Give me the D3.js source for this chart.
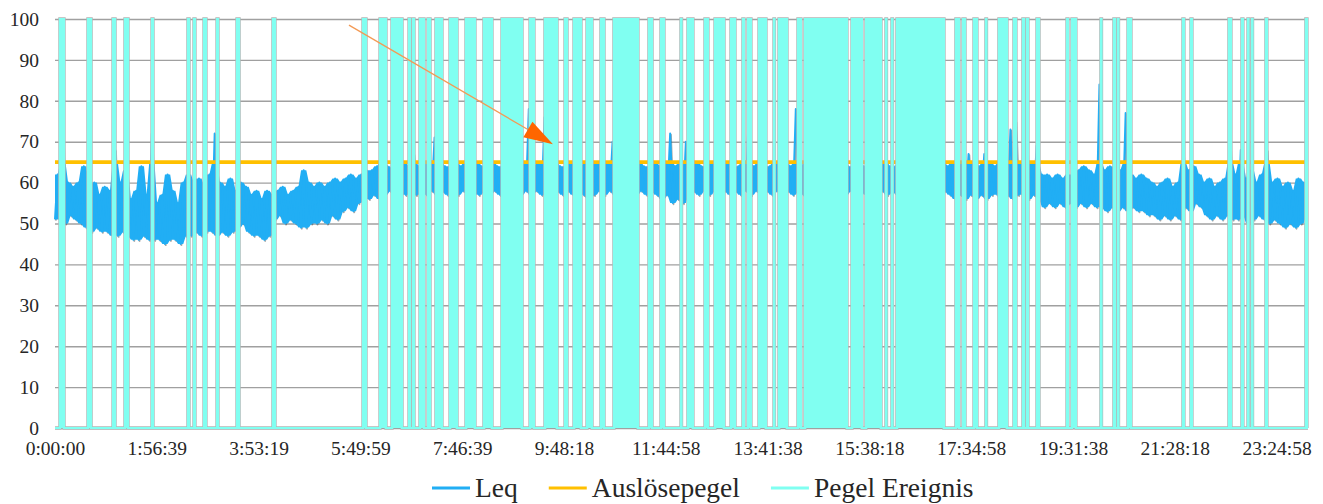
<!DOCTYPE html>
<html>
<head>
<meta charset="utf-8">
<script src="https://cdn.jsdelivr.net/npm/d3@7"></script>
<style>
  body { margin: 0; background: #fff; }
  svg { display: block; }
</style>
</head>
<body>
<svg id="chart" width="1323" height="504"></svg>
<script>
// ---- data ---------------------------------------------------------------
// x-axis category labels (one every 7000 s)
const tickLabels = ["0:00:00", "1:56:39", "3:53:19", "5:49:59", "7:46:39", "9:48:18",
  "11:44:58", "13:41:38", "15:38:18", "17:34:58", "19:31:38", "21:28:18", "23:24:58"];
const tickStepSeconds = 7000;
const dayEndSeconds = 86160;

// y-axis ticks (dB)
const yTicks = [0, 10, 20, 30, 40, 50, 60, 70, 80, 90, 100];

// Leq in dB, one reading every 180 s starting at 0:00:00
const leqStepSeconds = 180;
const leq = [
  51, 62, 51, 73, 50, 60, 52, 59, 51, 60,
  50, 64, 49, 58, 48, 60, 49, 57, 48, 59,
  48, 58, 47, 68, 47, 60, 48, 63, 47, 56,
  46, 58, 46, 64, 47, 57, 46, 72, 46, 55,
  46, 57, 45, 62, 46, 58, 46, 55, 45, 60,
  47, 62, 47, 60, 48, 61, 47, 59, 48, 62,
  48, 72, 47, 60, 48, 59, 47, 61, 48, 58,
  49, 60, 50, 59, 48, 57, 47, 58, 47, 56,
  46, 58, 47, 57, 51, 58, 52, 59, 50, 57,
  51, 58, 50, 59, 49, 63, 49, 60, 50, 59,
  50, 60, 51, 59, 50, 60, 52, 61, 51, 60,
  53, 61, 54, 62, 53, 61, 55, 62, 56, 63,
  56, 63, 57, 64, 56, 71, 57, 64, 58, 63,
  57, 64, 58, 65, 57, 64, 58, 67, 57, 64,
  58, 65, 57, 64, 58, 71, 57, 65, 58, 64,
  57, 64, 58, 71, 57, 64, 58, 65, 57, 64,
  58, 65, 57, 64, 58, 64, 57, 65, 58, 64,
  57, 64, 58, 65, 57, 64, 58, 64, 57, 65,
  58, 78, 57, 64, 58, 65, 57, 76, 58, 64,
  57, 65, 58, 64, 57, 64, 58, 65, 57, 73,
  58, 64, 57, 65, 56, 64, 57, 65, 58, 64,
  57, 65, 58, 70, 57, 64, 58, 65, 57, 64,
  58, 64, 57, 65, 58, 64, 57, 64, 58, 65,
  57, 64, 56, 65, 57, 72, 55, 64, 56, 65,
  55, 70, 57, 64, 58, 65, 57, 64, 58, 64,
  57, 65, 58, 64, 57, 64, 58, 65, 57, 64,
  58, 64, 57, 65, 58, 77, 57, 64, 58, 65,
  57, 64, 58, 64, 57, 65, 58, 64, 57, 65,
  58, 64, 57, 78, 58, 64, 57, 65, 58, 64,
  57, 65, 58, 64, 57, 64, 58, 65, 57, 64,
  58, 65, 57, 64, 58, 64, 57, 65, 58, 64,
  57, 64, 58, 65, 57, 64, 58, 65, 57, 64,
  58, 64, 57, 65, 58, 64, 57, 64, 58, 65,
  57, 64, 58, 65, 57, 64, 58, 64, 57, 65,
  58, 64, 57, 65, 56, 64, 57, 65, 56, 67,
  57, 65, 56, 64, 57, 67, 56, 65, 57, 64,
  57, 70, 56, 65, 57, 73, 56, 75, 57, 65,
  57, 76, 56, 65, 57, 69, 56, 62, 54, 62,
  55, 61, 54, 62, 55, 61, 54, 62, 55, 62,
  54, 63, 55, 64, 54, 63, 55, 62, 54, 84,
  54, 63, 53, 64, 54, 62, 53, 63, 54, 77,
  53, 62, 54, 61, 53, 62, 53, 61, 52, 60,
  52, 59, 51, 60, 52, 61, 51, 59, 52, 60,
  51, 67, 54, 63, 53, 64, 55, 62, 54, 60,
  52, 61, 51, 59, 52, 60, 51, 61, 52, 68,
  51, 62, 51, 68, 52, 61, 50, 63, 51, 60,
  52, 62, 51, 68, 50, 60, 51, 61, 50, 59,
  49, 60, 50, 58, 49, 61, 50, 60, 52
];

// trigger level (dB)
const ausloesepegel = 65;

// event periods [start, end] in minutes after midnight; Pegel Ereignis = 100 inside
const ereignisse = [
  [5.7, 10.3], [37.8, 41.3], [66.5, 68.8], [80.2, 83.7], [111.2, 112.3],
  [152.4, 153.6], [159.3, 160.4], [170.8, 173.0], [185.7, 186.8], [208.6, 210.9],
  [249.8, 252.1], [353.0, 356.4], [372.5, 379.3], [386.2, 397.7], [405.7, 406.8],
  [410.3, 411.4], [418.3, 422.9], [427.5, 429.8], [436.6, 443.5], [452.7, 460.7],
  [471.0, 481.3], [491.6, 500.8], [512.3, 535.2], [544.4, 548.9], [561.5, 575.3],
  [584.5, 586.8], [594.8, 602.8], [609.7, 615.4], [625.7, 629.2], [640.6, 668.1],
  [680.7, 684.2], [694.5, 697.9], [717.4, 718.0], [725.4, 731.1], [744.9, 748.3],
  [756.4, 766.7], [774.7, 779.3], [788.4, 789.6], [794.2, 797.6], [806.8, 814.8],
  [824.0, 824.5], [829.7, 838.9], [851.5, 854.9], [859.5, 907.6], [913.4, 924.8],
  [929.4, 946.6], [952.3, 952.9], [959.2, 959.8], [964.9, 1018.8], [1032.5, 1036.0],
  [1040.6, 1042.9], [1053.2, 1056.6], [1066.9, 1067.5], [1081.8, 1091.0], [1099.0, 1101.3],
  [1109.3, 1110.5], [1113.9, 1115.1], [1125.4, 1127.7], [1159.8, 1160.9], [1165.5, 1170.0],
  [1198.7, 1199.3], [1213.6, 1214.8], [1218.2, 1218.8], [1229.7, 1233.1], [1292.7, 1293.8],
  [1301.9, 1303.0], [1345.4, 1347.7], [1360.3, 1361.4], [1367.2, 1367.8], [1371.8, 1372.4],
  [1387.8, 1388.9], [1433.6, 1434.8]
];

// annotation arrow: from [seconds, dB] to [seconds, dB]
const arrowFrom = [20215, 98.5];
const arrowTo = [34240, 69.4];

// ---- font: a serif face when one is installed, else Arial-metric sans ---
function pickFont(candidates) {
  const ctx = document.createElement("canvas").getContext("2d");
  const sample = "0:00:00 Auslösepegel Ereignis Wmi";
  const widthOf = fam => { ctx.font = `40px ${fam}`; return ctx.measureText(sample).width; };
  for (const c of candidates) {
    const w1 = widthOf(`"${c}", monospace`), w2 = widthOf("monospace");
    const w3 = widthOf(`"${c}", sans-serif`), w4 = widthOf("sans-serif");
    if (w1 !== w2 && w3 !== w4) return `"${c}", serif`;
  }
  return null;
}
const serifFont = pickFont(["Liberation Serif", "Times New Roman", "Tinos", "Noto Serif",
  "DejaVu Serif", "FreeSerif", "Nimbus Roman", "Times"]);
const FONT = serifFont || '"Liberation Sans", Arial, sans-serif';
const AXIS_SIZE = serifFont ? 19.5 : 18;
const LEGEND_SIZE = serifFont ? 27.5 : 25;
const TEXT_COLOR = "#262626";
const colors = { leq: "#21AEF4", trigger: "#FFC000", event: "#80FFF1", grid: "#A0A0A0" };

// ---- drawing ------------------------------------------------------------
const svg = d3.select("#chart");
const x = d3.scaleLinear().domain([0, dayEndSeconds]).range([55, 1308]);
const y = d3.scaleLinear().domain([0, 100]).range([428, 19]);

// horizontal grid + y labels
const yAxis = svg.append("g")
  .attr("transform", `translate(${x(0)},0)`)
  .call(d3.axisLeft(y).tickValues(yTicks).tickSizeInner(-(x(dayEndSeconds) - x(0)))
    .tickSizeOuter(0).tickPadding(16));
yAxis.attr("font-family", FONT).attr("font-size", AXIS_SIZE);
yAxis.select(".domain").remove();
yAxis.selectAll(".tick line").attr("stroke", colors.grid).attr("stroke-width", 1.4);
yAxis.selectAll(".tick text").attr("fill", TEXT_COLOR)
  .style("font-family", FONT).style("font-size", AXIS_SIZE + "px");

// Leq: the dense trace reads as a band between neighbouring readings
const leqX = (d, i) => x(i * leqStepSeconds);
const near = i => leq.slice(Math.max(0, i - 1), Math.min(leq.length, i + 2));
const leqBand = d3.area().x(leqX)
  .y0((d, i) => y(Math.min(...near(i))))
  .y1((d, i) => y(Math.min(Math.max(...near(i)), 65)));
const leqLine = d3.line().x(leqX).y(d => y(d));
svg.append("path").datum(leq)
  .attr("d", leqLine).attr("transform", "translate(0.8,1.2)")
  .attr("fill", "none").attr("stroke", "#222").attr("stroke-opacity", 0.4)
  .attr("stroke-width", 1.8).attr("stroke-linejoin", "round");
svg.append("path").datum(leq)
  .attr("d", leqBand).attr("fill", colors.leq);
svg.append("path").datum(leq)
  .attr("d", leqLine)
  .attr("fill", "none").attr("stroke", colors.leq)
  .attr("stroke-width", 2).attr("stroke-linejoin", "round");

// trigger level
const triggerData = [[0, ausloesepegel], [dayEndSeconds, ausloesepegel]];
svg.append("path").datum(triggerData)
  .attr("d", d3.line().x(d => x(d[0])).y(d => y(d[1])))
  .attr("fill", "none").attr("stroke", colors.trigger).attr("stroke-width", 3.6);

// event level as a stepped 0/100 series
const eventPts = [[0, 0]];
ereignisse.forEach(([s, e]) => {
  eventPts.push([s * 60, 0], [s * 60, 100], [e * 60, 100], [e * 60, 0]);
});
eventPts.push([dayEndSeconds, 0]);
const evLine = d3.line().x(d => x(d[0])).y(d => y(d[1]));
const evArea = d3.area().x(d => x(d[0])).y0(y(0)).y1(d => y(d[1]));
svg.append("path").datum(eventPts).attr("d", evLine)
  .attr("fill", "none").attr("stroke", "#B4B4B4").attr("stroke-width", 3.4);
svg.append("path").datum(eventPts).attr("d", evArea)
  .attr("fill", colors.event);
svg.append("path").datum(eventPts).attr("d", evLine)
  .attr("fill", "none").attr("stroke", colors.event).attr("stroke-width", 2.2);

// x labels
const xAxis = svg.append("g")
  .attr("transform", `translate(0,${y(0)})`)
  .call(d3.axisBottom(x)
    .tickValues(d3.range(tickLabels.length).map(i => i * tickStepSeconds))
    .tickFormat((d, i) => tickLabels[i]).tickSize(0).tickPadding(serifFont ? 13 : 14));
xAxis.attr("font-family", FONT).attr("font-size", AXIS_SIZE);
xAxis.select(".domain").remove();
xAxis.selectAll(".tick text").attr("fill", TEXT_COLOR)
  .style("font-family", FONT).style("font-size", AXIS_SIZE + "px");

// annotation arrow
const ax0 = x(arrowFrom[0]), ay0 = y(arrowFrom[1]);
const ax1 = x(arrowTo[0]), ay1 = y(arrowTo[1]);
const ang = Math.atan2(ay1 - ay0, ax1 - ax0);
const headLen = 29, headHalf = 9;
const bx = ax1 - headLen * Math.cos(ang), by = ay1 - headLen * Math.sin(ang);
svg.append("line")
  .attr("x1", ax0).attr("y1", ay0).attr("x2", bx).attr("y2", by)
  .attr("stroke", "#F39A55").attr("stroke-width", 1.3);
svg.append("path")
  .attr("d", `M${ax1},${ay1}L${bx - headHalf * Math.sin(ang)},${by + headHalf * Math.cos(ang)}` +
             `L${bx + headHalf * Math.sin(ang)},${by - headHalf * Math.cos(ang)}Z`)
  .attr("fill", "#FF6600");

// legend
const legendItems = [
  { name: "Leq", color: colors.leq },
  { name: "Auslösepegel", color: colors.trigger },
  { name: "Pegel Ereignis", color: colors.event }
];
const legend = svg.append("g").attr("transform", "translate(0,488)");
let lx = 432;
legendItems.forEach(item => {
  legend.append("line").attr("x1", lx).attr("x2", lx + 38).attr("y1", 0).attr("y2", 0)
    .attr("stroke", item.color).attr("stroke-width", 3);
  const t = legend.append("text").attr("x", lx + 43).attr("y", 9)
    .attr("fill", TEXT_COLOR)
    .style("font-family", FONT).style("font-size", LEGEND_SIZE + "px").text(item.name);
  lx += 43 + t.node().getComputedTextLength() + 31;
});
</script>
</body>
</html>
